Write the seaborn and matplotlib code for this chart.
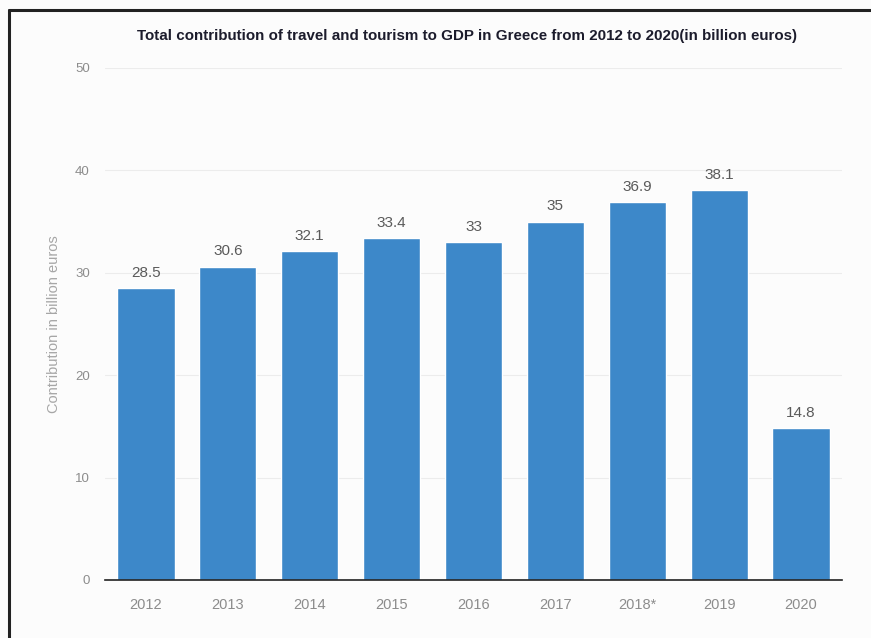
import matplotlib
matplotlib.use("Agg")
import matplotlib.pyplot as plt
import seaborn as sns
import pandas as pd
from matplotlib.lines import Line2D

years = ["2012", "2013", "2014", "2015", "2016", "2017", "2018*", "2019", "2020"]
contribution = [28.5, 30.6, 32.1, 33.4, 33, 35, 36.9, 38.1, 14.8]
value_labels = ["28.5", "30.6", "32.1", "33.4", "33", "35", "36.9", "38.1", "14.8"]
y_ticks = [0, 10, 20, 30, 40, 50]

sns.set_theme(style="white")
plt.rcParams["font.family"] = ["Liberation Sans", "DejaVu Sans"]

df = pd.DataFrame({"year": years, "value": contribution})

fig = plt.figure(figsize=(8.71, 6.38), dpi=100)
fig.patch.set_facecolor("#fcfcfc")
ax = fig.add_axes([105 / 871, 1 - 580 / 638, 737 / 871, 512 / 638])
ax.set_facecolor("#fcfcfc")

sns.barplot(data=df, x="year", y="value", color="#3d88c9", saturation=1,
            width=0.7, ax=ax, zorder=3)

ax.set_xlim(-0.5, 8.5)
ax.set_ylim(0, 50)
ax.set_yticks(y_ticks)
ax.yaxis.grid(True, color="#ececec", linewidth=0.8, zorder=0)
ax.set_axisbelow(True)
for s in ["top", "right", "left"]:
    ax.spines[s].set_visible(False)
ax.spines["bottom"].set_color("#222222")
ax.spines["bottom"].set_linewidth(1.2)
ax.spines["bottom"].set_zorder(4)

ax.tick_params(axis="y", length=0, colors="#8c8c8c", labelsize=9.5, pad=11)
ax.tick_params(axis="x", length=0, colors="#8c8c8c", labelsize=10.5, pad=13)

ax.set_xlabel("")
ax.set_ylabel("Contribution in billion euros", color="#a6a6a6", fontsize=10.5,
              labelpad=10)

for container in ax.containers:
    ax.bar_label(container, labels=value_labels, padding=6, fontsize=11,
                 color="#5a5a5a")

fig.text(467 / 871, 1 - 36 / 638,
         "Total contribution of travel and tourism to GDP in Greece from 2012 to 2020(in billion euros)",
         ha="center", va="center", fontsize=10.9, fontweight="bold", color="#1c1c2c")

# outer frame along top and left edges
fig.add_artist(Line2D([9 / 871, 1], [1 - 10 / 638, 1 - 10 / 638],
                      transform=fig.transFigure, color="#222222", linewidth=2.2))
fig.add_artist(Line2D([9 / 871, 9 / 871], [0, 1 - 10 / 638],
                      transform=fig.transFigure, color="#222222", linewidth=2.2))

fig.savefig("out.png", dpi=100, facecolor=fig.get_facecolor())
